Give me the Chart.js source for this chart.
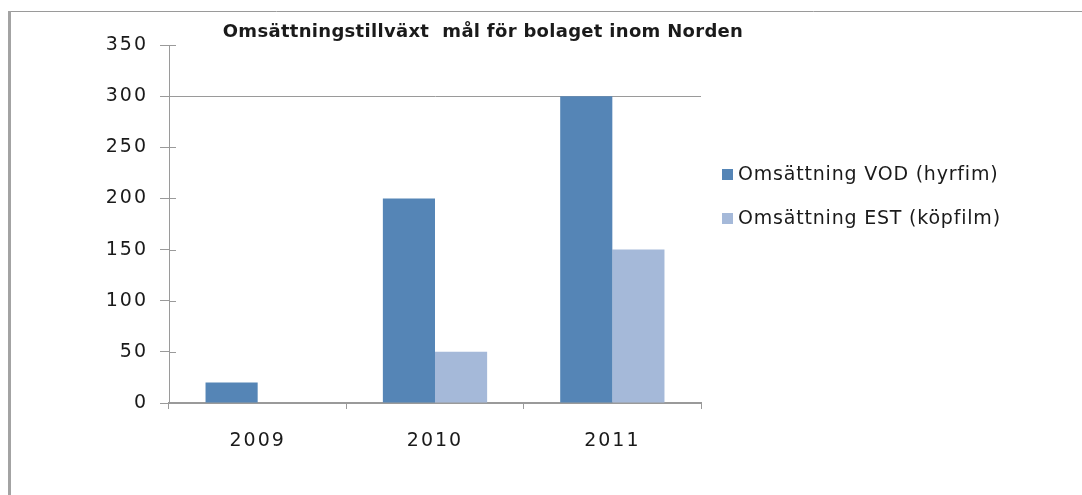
<!DOCTYPE html>
<html>
<head>
<meta charset="utf-8">
<script src="https://cdn.jsdelivr.net/npm/chart.js@4/dist/chart.umd.min.js"></script>
<style>
  html, body { margin: 0; padding: 0; background: #ffffff; }
  #wrap { position: relative; width: 1082px; height: 495px; }
</style>
</head>
<body>
<div id="wrap"><canvas id="c" width="1082" height="495"></canvas></div>
<script>
const categories = ['2009', '2010', '2011'];
const vodValues = [20, 200, 300];
const estValues = [0, 50, 150];
const seriesLabels = ['Omsättning VOD (hyrfim)', 'Omsättning EST (köpfilm)'];
const seriesColors = ['#5585b6', '#a5b9d9'];
const titleText = 'Omsättningstillväxt  mål för bolaget inom Norden';
const yMin = 0, yMax = 350, yStep = 50;

const FONT = '"DejaVu Sans", Verdana, sans-serif';
const TEXT = '#1a1a1a';
const AXIS = '#9a9a9a';
const TICK_SPACING = '2px';

const framePlugin = {
  id: 'frame',
  beforeLayout(chart) { chart.ctx.letterSpacing = TICK_SPACING; },
  beforeDraw(chart) {
    const ctx = chart.ctx;
    ctx.save();
    ctx.fillStyle = '#ffffff';
    ctx.fillRect(0, 0, chart.width, chart.height);
    ctx.strokeStyle = AXIS;
    ctx.lineWidth = 1;
    ctx.beginPath();
    ctx.moveTo(8, 11.5); ctx.lineTo(chart.width, 11.5);
    ctx.stroke();
    ctx.lineWidth = 3;
    ctx.strokeStyle = '#a3a3a3';
    ctx.beginPath();
    ctx.moveTo(9.5, 11); ctx.lineTo(9.5, chart.height);
    ctx.stroke();
    ctx.restore();
    ctx.letterSpacing = TICK_SPACING;
  },
  afterDraw(chart) {
    const ctx = chart.ctx;
    const ys = chart.scales.y;
    ctx.save();
    // inner tick marks on the value axis
    ctx.strokeStyle = AXIS;
    ctx.lineWidth = 1;
    ys.ticks.forEach(t => {
      const py = Math.round(ys.getPixelForValue(t.value)) + 0.5;
      ctx.beginPath();
      ctx.moveTo(chart.chartArea.left, py);
      ctx.lineTo(chart.chartArea.left + 7, py);
      ctx.stroke();
    });
    // title
    ctx.letterSpacing = '0.3px';
    ctx.fillStyle = TEXT;
    ctx.font = 'bold 18px ' + FONT;
    ctx.textAlign = 'center';
    ctx.textBaseline = 'middle';
    ctx.fillText(titleText, 483, 32);
    // legend
    ctx.letterSpacing = '0.8px';
    ctx.font = '19px ' + FONT;
    ctx.textAlign = 'left';
    chart.data.datasets.forEach((ds, i) => {
      const cy = 174 + i * 44;
      ctx.fillStyle = ds.backgroundColor;
      ctx.fillRect(722, cy - 5, 11, 11);
      ctx.fillStyle = TEXT;
      ctx.fillText(ds.label, 738, cy + 1);
    });
    ctx.restore();
  }
};

new Chart(document.getElementById('c'), {
  type: 'bar',
  data: {
    labels: categories,
    datasets: [
      { label: seriesLabels[0], data: vodValues, backgroundColor: seriesColors[0] },
      { label: seriesLabels[1], data: estValues, backgroundColor: seriesColors[1] }
    ]
  },
  options: {
    responsive: false,
    animation: false,
    devicePixelRatio: 1,
    layout: { padding: { top: 45, right: 381, bottom: 0, left: 0 } },
    datasets: { bar: { categoryPercentage: 0.588, barPercentage: 1.0, borderWidth: 0 } },
    plugins: {
      legend: { display: false },
      title: { display: false },
      tooltip: { enabled: false }
    },
    scales: {
      x: {
        grid: { display: true, drawOnChartArea: false, offset: true, tickLength: 6, color: AXIS, tickColor: AXIS },
        border: { display: true, color: AXIS, width: 2 },
        ticks: { color: TEXT, font: { family: FONT, size: 19 }, padding: 21 },
        afterFit(scale) { scale.height = 92; }
      },
      y: {
        min: yMin, max: yMax,
        grid: {
          drawOnChartArea: true,
          color: ctx => (ctx.tick && ctx.tick.value === 300) ? AXIS : 'rgba(0,0,0,0)',
          tickColor: AXIS,
          tickLength: 9
        },
        border: { display: true, color: AXIS, width: 1 },
        ticks: { stepSize: yStep, color: TEXT, font: { family: FONT, size: 19 }, padding: 12 },
        afterFit(scale) { scale.width = 169; }
      }
    }
  },
  plugins: [framePlugin]
});
</script>
</body>
</html>
